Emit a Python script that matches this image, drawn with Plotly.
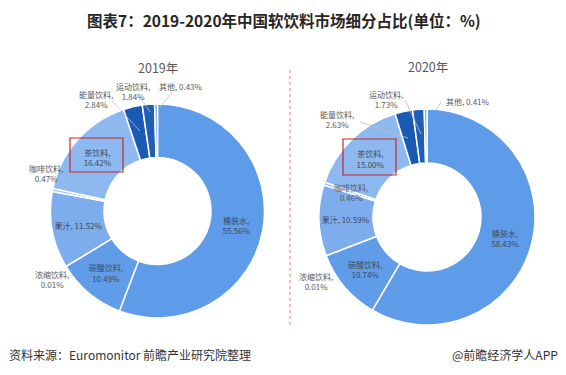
import plotly.graph_objects as go

# page has an 8px body margin, so the figure is drawn 8px in from the window edge
OFF = 8
W, H = 566 - OFF, 375 - OFF

categories = ["桶装水", "碳酸饮料", "浓缩饮料", "果汁", "咖啡饮料", "茶饮料", "能量饮料", "运动饮料", "其他"]
values_2019 = [55.56, 10.49, 0.01, 11.52, 0.47, 16.42, 2.84, 1.84, 0.43]
values_2020 = [58.43, 10.74, 0.01, 10.59, 0.46, 15.00, 2.63, 1.73, 0.41]
years = ["2019年", "2020年"]

colors = ["#5E9BE8", "#619CE8", "#7DADED", "#7DADED", "#A4C5F1",
          "#8DB8F0", "#1B5AB4", "#1F5DB6", "#6FA2E8"]

inside = {"桶装水", "碳酸饮料", "果汁", "茶饮料"}
one_line = {"果汁"}

LABEL_COLOR = "#595959"
FONT = "Noto Sans CJK SC, Microsoft YaHei, sans-serif"


def px(x, y):
    # window pixel -> paper coordinates
    return (x - OFF) / W, 1 - (y - OFF) / H


def pie_domain(cx, cy, r):
    x0, y1 = px(cx - r, cy - r)
    x1, y0 = px(cx + r, cy + r)
    return dict(x=[x0, x1], y=[y0, y1])


def make_pie(vals, dom):
    tp = ["inside" if c in inside else "none" for c in categories]
    tt = [("%{label}, %{value:.2f}%" if c in one_line else "%{label},<br>%{value:.2f}%")
          for c in categories]
    return go.Pie(
        labels=categories, values=vals, sort=False, direction="clockwise",
        rotation=0, hole=0.5, domain=dom,
        marker=dict(colors=colors, line=dict(color="white", width=1.5)),
        textposition=tp, texttemplate=tt, insidetextorientation="horizontal",
        textfont=dict(size=8, color="#3F4A5A", family=FONT),
        showlegend=False, hoverinfo="label+value",
    )


fig = go.Figure()
fig.add_trace(make_pie(values_2019, pie_domain(157.5, 211, 107)))
fig.add_trace(make_pie(values_2020, pie_domain(427, 217, 108)))

annotations = []


def ann(text, x, y, size=8, color=LABEL_COLOR, xanchor="center", bold=False):
    ax, ay = px(x, y)
    f = dict(size=size, color=color, family=FONT)
    if bold:
        f["weight"] = "bold"
    annotations.append(dict(text=text, x=ax, y=ay, xref="paper", yref="paper",
                            showarrow=False, xanchor=xanchor, yanchor="middle", font=f))


# outside labels (positions only; text from data)
outside_pos_2019 = {"能量饮料": (96, 100), "运动饮料": (133, 91), "其他": (181, 86),
                    "咖啡饮料": (46, 173), "浓缩饮料": (52, 279)}
outside_pos_2020 = {"能量饮料": (337, 119), "运动饮料": (386, 100), "其他": (468, 101),
                    "咖啡饮料": (351, 192), "浓缩饮料": (316, 281)}
one_line_outside = {"其他"}

for vals, pos in ((values_2019, outside_pos_2019), (values_2020, outside_pos_2020)):
    for c, v in zip(categories, vals):
        if c in pos:
            if c in one_line_outside:
                t = f"{c}, {v:.2f}%"
            else:
                t = f"{c},<br>{v:.2f}%"
            ann(t, *pos[c])

ann(years[0], 158, 68, size=12.5)
ann(years[1], 428, 66, size=12.5)

# title and footer
ann("图表7：2019-2020年中国软饮料市场细分占比(单位：%)", 284, 20, size=15.5,
    color="#262626", bold=True)
ann("资料来源：Euromonitor 前瞻产业研究院整理", 7, 354, size=12, color="#333333",
    xanchor="left")
ann("@前瞻经济学人APP", 560, 354, size=12, color="#333333", xanchor="right")

shapes = []


def rect(x0, y0, x1, y1):
    a0, b1 = px(x0, y0)
    a1, b0 = px(x1, y1)
    shapes.append(dict(type="rect", xref="paper", yref="paper", x0=a0, x1=a1, y0=b0, y1=b1,
                       line=dict(color="#C0282D", width=1.2)))


def line(x0, y0, x1, y1, color="#BFBFBF", width=0.8, dash=None):
    a0, b0 = px(x0, y0)
    a1, b1 = px(x1, y1)
    shapes.append(dict(type="line", xref="paper", yref="paper", x0=a0, x1=a1, y0=b0, y1=b1,
                       line=dict(color=color, width=width, dash=dash)))


rect(70, 138, 123, 172)
rect(343, 139, 396, 175)
line(290, 70, 290, 328, color="#E08080", width=1, dash="dot")

# leader lines
line(112, 101, 140, 131)
line(140, 97, 150, 112)
line(172, 92, 160, 107)
line(360, 122, 408, 138)
line(405, 100, 421, 134)
line(441, 102, 436, 110)

fig.update_layout(
    width=W, height=H, margin=dict(l=0, r=0, t=0, b=0),
    paper_bgcolor="white", plot_bgcolor="white",
    annotations=annotations, shapes=shapes,
    uniformtext=dict(minsize=8, mode="show"),
    font=dict(family=FONT),
)

fig.write_html("out.html")
